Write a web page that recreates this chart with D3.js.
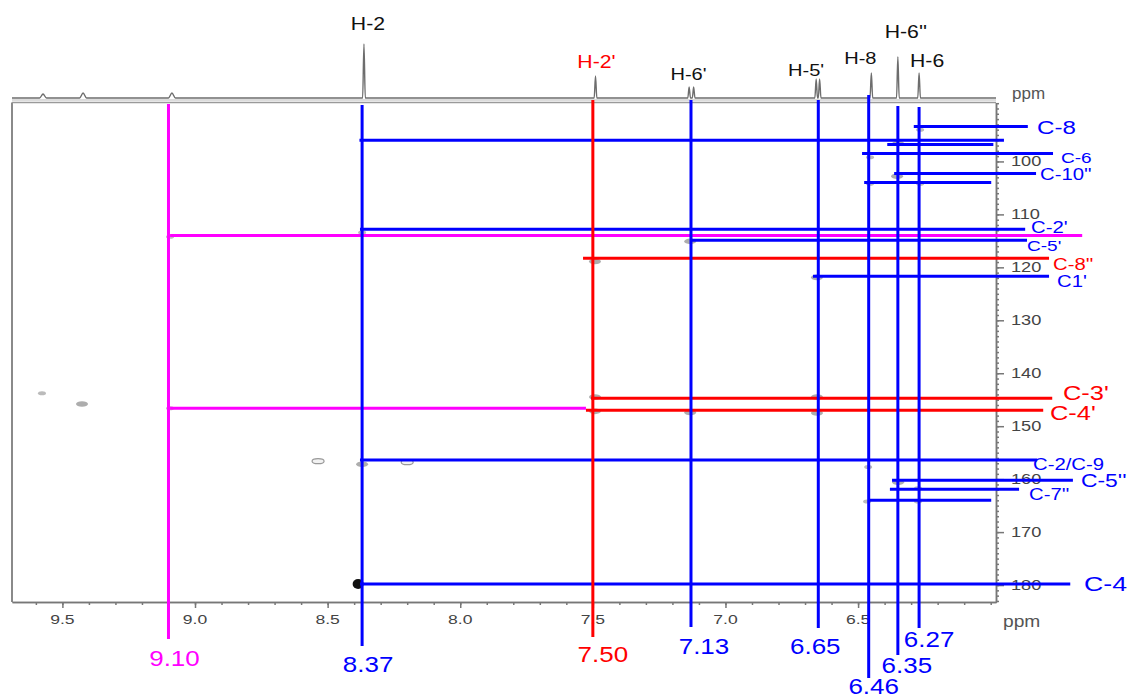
<!DOCTYPE html>
<html><head><meta charset="utf-8">
<script src="https://cdn.jsdelivr.net/npm/d3@7"></script>
<style>
body{margin:0;background:#fff}
svg{display:block}
text{font-family:"Liberation Sans",Arial,sans-serif}
</style>
</head><body>
<svg id="c" width="1128" height="698"></svg>
<script>
// ---------------- DATA ----------------
// 1H projection peaks (ppm, relative intensity)
const protonPeaks = [
  {ppm: 9.573, h: 4}, {ppm: 9.422, h: 5}, {ppm: 9.087, h: 5},
  {ppm: 8.363, h: 54}, {ppm: 7.490, h: 22},
  {ppm: 7.137, h: 11}, {ppm: 7.120, h: 11},
  {ppm: 6.658, h: 19}, {ppm: 6.645, h: 19},
  {ppm: 6.450, h: 25}, {ppm: 6.350, h: 41}, {ppm: 6.270, h: 25}
];
// proton peak labels
const peakLabelNames = ["H-2", "H-2'", "H-6'", "H-5'", "H-8", "H-6''", "H-6"];
const peakLabelPpm   = [8.363, 7.490, 7.128, 6.651, 6.450, 6.350, 6.270];
const peakLabelGroup = ["k", "red", "k", "k", "k", "k", "k"];

// vertical correlation lines (1H shifts)
const protonShifts = [9.10, 8.37, 7.50, 7.13, 6.65, 6.46, 6.35, 6.27];
const protonShiftLabels = ["9.10", "8.37", "7.50", "7.13", "6.65", "6.46", "6.35", "6.27"];
const protonShiftGroup = ["mag", "blue", "red", "blue", "blue", "blue", "blue", "blue"];

// horizontal correlation lines (13C shift, from/to in 1H ppm)
const carbonLabels = ["C-8", "", "", "C-6", "C-10''", "", "C-2'", "", "C-5'", "C-8''", "C1'",
                      "C-3'", "C-4'", "", "C-2/C-9", "C-5''", "C-7''", "", "C-4"];
const carbonShifts = [93.4, 96.0, 96.8, 98.5, 102.3, 104.0, 112.8, 114.0, 114.9, 118.3, 121.7,
                      144.7, 147.0, 146.6, 156.4, 160.2, 161.9, 164.0, 179.8];
const carbonFrom   = [6.29, 8.38, 6.39, 6.485, 6.364, 6.477, 8.378, 9.094, 7.133, 7.537, 6.67,
                      7.507, 7.526, 9.094, 8.378, 6.372, 6.38, 6.462, 8.378];
const carbonTo     = [5.86, 5.95, 5.99, 5.765, 5.829, 5.998, 5.87, 5.655, 5.863, 5.78, 5.78,
                      5.768, 5.802, 7.526, 5.825, 5.69, 5.893, 5.998, 5.70];
const carbonGroup  = ["blue", "blue", "blue", "blue", "blue", "blue", "blue", "mag", "blue", "red", "blue",
                      "red", "red", "mag", "blue", "blue", "blue", "blue", "blue"];

// HMBC cross peaks (1H ppm, 13C ppm, kind)
const crossH = [9.577, 9.426, 9.094, 8.536, 8.370, 8.200, 8.385, 8.370, 9.094, 7.133, 7.492, 6.655,
                7.492, 7.492, 7.133, 6.655, 6.655, 6.266, 6.349, 6.455, 6.353, 6.455, 6.266,
                6.462, 6.349, 6.274, 6.466, 6.274];
const crossC = [143.8, 145.8, 146.6, 156.6, 157.2, 156.8, 179.8, 113.4, 114.2, 115.1, 118.9, 121.9,
                144.5, 147.2, 147.4, 144.5, 147.5, 94.0, 96.6, 99.2, 102.8, 104.2, 104.2,
                157.7, 160.6, 161.7, 164.2, 164.2];
const crossKind = ["s", "m", "s", "ring", "m", "ring", "strong", "s", "s", "m", "m", "m",
                   "m", "m", "m", "m", "m", "s", "m", "s", "m", "s", "s",
                   "s", "m", "s", "s", "s"];

// axis ticks
const xMajorTicks = [9.5, 9.0, 8.5, 8.0, 7.5, 7.0, 6.5];
const xTickLabels = ["9.5", "9.0", "8.5", "8.0", "7.5", "7.0", "6.5"];
const yMajorTicks = [100, 110, 120, 130, 140, 150, 160, 170, 180];
const yTickLabels = ["100", "110", "120", "130", "140", "150", "160", "170", "180"];

// ---------------- LAYOUT / STYLE ----------------
const colors = {blue: "#0000ff", red: "#ff0000", mag: "#ff00ff", k: "#111"};
const W = 1128, H = 698;
const svg = d3.select("#c");
const x = d3.scaleLinear().domain([9.69, 5.98]).range([12, 996]);
const y = d3.scaleLinear().domain([88.87, 183.2]).range([102.5, 602]);
const inten = d3.scaleLinear().domain([0, 60]).range([98, 38]);

// label layout (pixel tweaks)
const peakLabelLayout = [
  {dx: 4, y: 30, fs: 18}, {dx: 1, y: 68, fs: 18}, {dx: -3, y: 80, fs: 17}, {dx: -12, y: 76, fs: 17},
  {dx: -11, y: 64, fs: 17}, {dx: 8, y: 38, fs: 18}, {dx: 8, y: 67, fs: 18}
];
const vLineLayout = [
  {top: 104, bottom: 639, dx: 6, y: 666}, {top: 105, bottom: 646, dx: 6, y: 672},
  {top: 100, bottom: 637, dx: 10, y: 662}, {top: 100, bottom: 627, dx: 13, y: 654},
  {top: 100, bottom: 628, dx: -3, y: 654}, {top: 95, bottom: 678, dx: 5, y: 694},
  {top: 106, bottom: 655, dx: 9, y: 673}, {top: 107, bottom: 628, dx: 10, y: 647}
];
const cLabelLayout = {
  "C-8": {x: 1037, y: 134, fs: 19}, "C-6": {x: 1061, y: 163, fs: 15}, "C-10''": {x: 1040, y: 180, fs: 16},
  "C-2'": {x: 1031, y: 233, fs: 16}, "C-5'": {x: 1027, y: 251, fs: 15}, "C-8''": {x: 1053, y: 270, fs: 16},
  "C1'": {x: 1057, y: 287, fs: 16}, "C-3'": {x: 1063, y: 400, fs: 20}, "C-4'": {x: 1050, y: 420, fs: 20},
  "C-2/C-9": {x: 1033, y: 470, fs: 16}, "C-5''": {x: 1081, y: 487, fs: 18}, "C-7''": {x: 1029, y: 500, fs: 16},
  "C-4": {x: 1084, y: 591, fs: 21}
};

svg.append("rect").attr("width", W).attr("height", H).attr("fill", "#fff");

// ---------------- 1H projection ----------------
const pts = [[x.domain()[0], 0]];
protonPeaks.slice().sort((a, b) => b.ppm - a.ppm).forEach(p => {
  const w = p.h < 8 ? 0.013 : 0.005;
  pts.push([p.ppm + w, 0], [p.ppm, p.h], [p.ppm - w, 0]);
});
pts.push([x.domain()[1], 0]);
const trace = d3.line().x(d => x(d[0])).y(d => inten(d[1])).curve(d3.curveMonotoneX);
svg.append("path").attr("d", trace(pts)).attr("fill", "none")
  .attr("stroke", "#6d6d6d").attr("stroke-width", 1.4);
svg.append("line").attr("x1", x.range()[0]).attr("x2", x.range()[1])
  .attr("y1", 100).attr("y2", 100).attr("stroke", "#d0d0d0").attr("stroke-width", 1.5);

// ---------------- frame & axes ----------------
const frame = svg.append("g");
frame.append("line").attr("x1", 12).attr("x2", 12).attr("y1", y.range()[0]).attr("y2", y.range()[1])
  .attr("stroke", "#8a8a8a").attr("stroke-width", 2);
frame.append("line").attr("x1", 12).attr("x2", 996).attr("y1", y.range()[0]).attr("y2", y.range()[0])
  .attr("stroke", "#9a9a9a").attr("stroke-width", 1.5);

const xMinor = d3.range(96, 59, -1).map(v => v / 10);
const gxMinor = svg.append("g").attr("transform", `translate(0,${y.range()[1]})`)
  .call(d3.axisBottom(x).tickValues(xMinor).tickSize(3).tickSizeOuter(0).tickFormat(""));
const gx = svg.append("g").attr("transform", `translate(0,${y.range()[1]})`)
  .call(d3.axisBottom(x).tickValues(xMajorTicks).tickSize(6).tickSizeOuter(0).tickFormat(""));
[gxMinor, gx].forEach(g => {
  g.selectAll("path,line").attr("stroke", "#777").attr("stroke-width", 1.5);
});
svg.append("g").selectAll("text").data(xMajorTicks).join("text")
  .attr("transform", d => `translate(${x(d)},624) scale(1.35,1)`)
  .attr("text-anchor", "middle").attr("font-size", 13).attr("fill", "#444")
  .text((d, i) => xTickLabels[i]);
svg.append("text").attr("transform", "translate(1003,627) scale(1.2,1)")
  .attr("font-size", 16).attr("fill", "#555").text("ppm");

const yMinor = d3.range(89, 184, 1);
const gyMinor = svg.append("g").attr("transform", `translate(${x.range()[1]},0)`)
  .call(d3.axisRight(y).tickValues(yMinor).tickSize(3).tickSizeOuter(0).tickFormat(""));
const gy = svg.append("g").attr("transform", `translate(${x.range()[1]},0)`)
  .call(d3.axisRight(y).tickValues(yMajorTicks).tickSize(8).tickSizeOuter(0).tickFormat(""));
[gyMinor, gy].forEach(g => {
  g.selectAll("path,line").attr("stroke", "#777").attr("stroke-width", 1.5);
});
svg.append("g").selectAll("text").data(yMajorTicks).join("text")
  .attr("transform", d => `translate(1011,${y(d) + 5}) scale(1.3,1)`)
  .attr("font-size", 14).attr("fill", "#444")
  .text((d, i) => yTickLabels[i]);
svg.append("text").attr("x", 1012).attr("y", 99)
  .attr("font-size", 17).attr("fill", "#555").text("ppm");

// ---------------- cross peaks ----------------
const spots = svg.append("g");
crossH.forEach((h, i) => {
  const k = crossKind[i];
  const e = spots.append("ellipse").attr("cx", x(h)).attr("cy", y(crossC[i]));
  if (k === "strong") e.attr("rx", 5.5).attr("ry", 5).attr("fill", "#111");
  else if (k === "ring") e.attr("rx", 6).attr("ry", 2.5).attr("fill", "#f2f2f2").attr("stroke", "#999").attr("stroke-width", 1.2);
  else if (k === "m") e.attr("rx", 6).attr("ry", 2.8).attr("fill", "#adadad");
  else e.attr("rx", 4).attr("ry", 2).attr("fill", "#bbb");
});

// ---------------- correlation lines ----------------
const lines = svg.append("g");
carbonShifts.forEach((c, i) => {
  lines.append("line")
    .attr("x1", x(carbonFrom[i])).attr("x2", x(carbonTo[i]))
    .attr("y1", y(c)).attr("y2", y(c))
    .attr("stroke", colors[carbonGroup[i]]).attr("stroke-width", 3);
});
protonShifts.forEach((p, i) => {
  const L = vLineLayout[i];
  lines.append("line").attr("x1", x(p)).attr("x2", x(p))
    .attr("y1", L.top).attr("y2", L.bottom)
    .attr("stroke", colors[protonShiftGroup[i]]).attr("stroke-width", 3);
});

// ---------------- labels ----------------
const lab = svg.append("g");
protonShifts.forEach((p, i) => {
  const L = vLineLayout[i];
  lab.append("text").attr("transform", `translate(${x(p) + L.dx},${L.y}) scale(1.18,1)`)
    .attr("text-anchor", "middle").attr("font-size", 22)
    .attr("fill", colors[protonShiftGroup[i]]).text(protonShiftLabels[i]);
});
carbonLabels.forEach((t, i) => {
  if (!t) return;
  const L = cLabelLayout[t];
  lab.append("text").attr("transform", `translate(${L.x},${L.y}) scale(1.27,1)`)
    .attr("font-size", L.fs).attr("fill", colors[carbonGroup[i]]).text(t);
});
peakLabelNames.forEach((t, i) => {
  const L = peakLabelLayout[i];
  lab.append("text").attr("transform", `translate(${x(peakLabelPpm[i]) + L.dx},${L.y}) scale(1.18,1)`)
    .attr("text-anchor", "middle").attr("font-size", L.fs)
    .attr("fill", colors[peakLabelGroup[i]]).text(t);
});
</script>
</body></html>
